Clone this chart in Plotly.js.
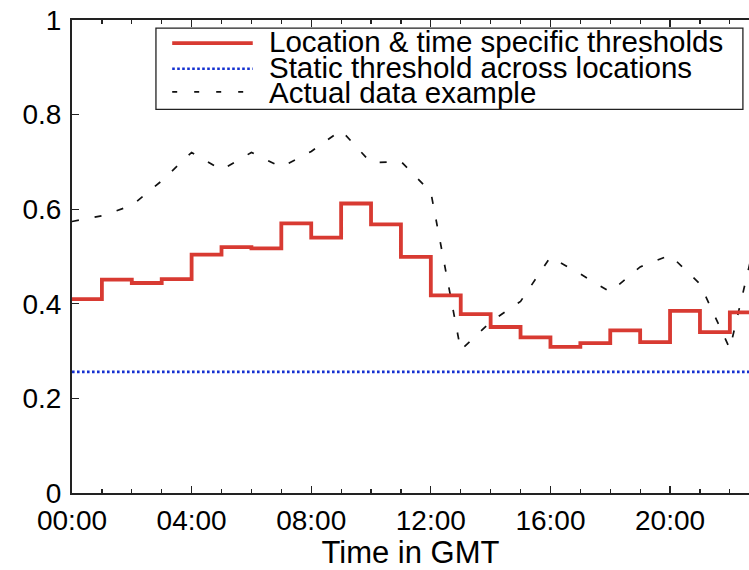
<!DOCTYPE html>
<html>
<head>
<meta charset="utf-8">
<script src="https://cdn.plot.ly/plotly-3.0.1.min.js"></script>
<style>
html,body{margin:0;padding:0;background:#fff;}
#chart{width:749px;height:570px;}
</style>
</head>
<body>
<div id="chart"></div>
<script>
// Hour of day (GMT)
var hours = ['00:00','01:00','02:00','03:00','04:00','05:00','06:00','07:00','08:00','09:00','10:00','11:00',
             '12:00','13:00','14:00','15:00','16:00','17:00','18:00','19:00','20:00','21:00','22:00','23:00'];
// Location & time specific thresholds (value held over each hour)
var specificThresholds = [0.410,0.451,0.444,0.452,0.504,0.520,0.517,0.570,0.540,0.612,0.568,0.499,
                          0.418,0.378,0.351,0.329,0.309,0.317,0.344,0.319,0.385,0.340,0.382,0.382];
// Static threshold across locations
var staticThreshold = 0.256;
// Actual data example
var actualData = [0.574,0.586,0.608,0.660,0.720,0.683,0.720,0.689,0.722,0.767,0.698,0.701,
                  0.636,0.302,0.362,0.405,0.499,0.463,0.425,0.478,0.503,0.442,0.305,0.575];
var legendNames = ['Location & time specific thresholds','Static threshold across locations','Actual data example'];
var xTitle = 'Time in GMT';

var xs = hours.map(function(h){ return '2000-01-01 ' + h; });
var FONT = 'Liberation Sans, Arial, Helvetica, sans-serif';

var traces = [
  {x: xs, y: actualData, type:'scatter', mode:'lines', name: legendNames[2],
   line:{color:'#111', width:1.7, dash:'7px,16px'}, showlegend:false},
  {x: xs, y: xs.map(function(){return staticThreshold;}), type:'scatter', mode:'lines', name: legendNames[1],
   line:{color:'#1530d0', width:2.6, dash:'2.6px,2.4px'}, showlegend:false},
  {x: xs, y: specificThresholds, type:'scatter', mode:'lines', name: legendNames[0],
   line:{color:'#d83a32', width:3.8, shape:'hv'}, showlegend:false}
];

// manual legend layout (paper coordinates)
var lx0 = 0.148, lx1 = 0.267, tx = 0.288;
var rows = [0.954, 0.899, 0.846];
var shapes = [
  {type:'rect', xref:'paper', yref:'paper', x0:0.124, x1:0.991, y0:0.811, y1:0.983,
   line:{color:'#222', width:1.3}, fillcolor:'white', layer:'above'},
  {type:'line', xref:'paper', yref:'paper', x0:lx0, x1:lx1, y0:0.951, y1:0.951,
   line:{color:'#d83a32', width:3.8}, layer:'above'},
  {type:'line', xref:'paper', yref:'paper', x0:lx0, x1:lx1, y0:0.897, y1:0.897,
   line:{color:'#1530d0', width:2.6, dash:'2.6px,2.4px'}, layer:'above'},
  {type:'line', xref:'paper', yref:'paper', x0:lx0, x1:lx1, y0:0.848, y1:0.848,
   line:{color:'#111', width:1.7, dash:'5px,17px'}, layer:'above'}
];
var annotations = legendNames.map(function(n,i){
  return {xref:'paper', yref:'paper', x:tx, y:rows[i], xanchor:'left', yanchor:'middle',
          text:n, showarrow:false, font:{family:FONT, size:29.5, color:'#000'}};
});

var layout = {
  width:749, height:570,
  margin:{l:72, r:0, t:20, b:77},
  paper_bgcolor:'white', plot_bgcolor:'white',
  font:{family:FONT, color:'#000'},
  showlegend:false,
  xaxis:{
    type:'date',
    range:['2000-01-01 00:00','2000-01-01 22:38:24'],
    tick0:'2000-01-01 00:00', dtick:4*3600000, tickformat:'%H:%M',
    ticks:'inside', ticklen:7, tickwidth:1.3, tickcolor:'#222',
    minor:{dtick:3600000, ticks:'inside', ticklen:4, tickwidth:1.2, tickcolor:'#222', showgrid:false},
    showline:true, linecolor:'#222', linewidth:2, mirror:'ticks',
    showgrid:false, zeroline:false, ticklabelstandoff:1,
    tickfont:{family:FONT, size:28, color:'#000'},
    title:{text:xTitle, font:{family:FONT, size:31, color:'#000'}, standoff:13}
  },
  yaxis:{
    range:[0,1], dtick:0.2, tick0:0,
    ticks:'inside', ticklen:7, tickwidth:1.3, tickcolor:'#222',
    showline:true, linecolor:'#222', linewidth:2, mirror:false,
    showgrid:false, zeroline:false, ticklabelstandoff:3,
    tickfont:{family:FONT, size:28, color:'#000'}
  },
  shapes:shapes,
  annotations:annotations
};

Plotly.newPlot('chart', traces, layout, {displayModeBar:false, staticPlot:true});
</script>
</body>
</html>
